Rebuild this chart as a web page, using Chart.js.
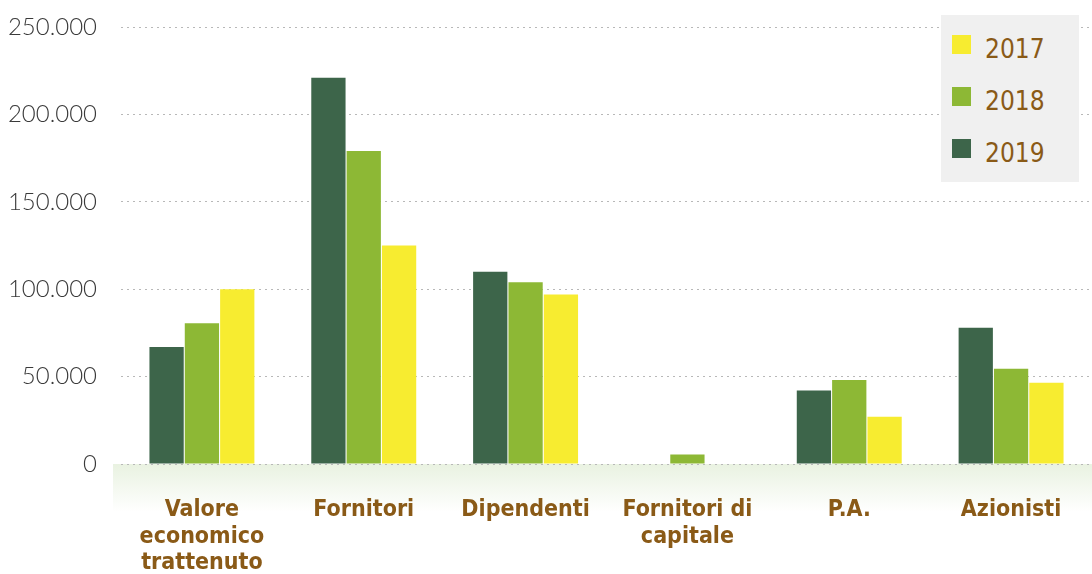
<!DOCTYPE html>
<html>
<head>
<meta charset="utf-8">
<script src="https://cdn.jsdelivr.net/npm/chart.js@4/dist/chart.umd.min.js"></script>
<style>
  html, body { margin: 0; padding: 0; background: #fff; }
  #wrap { position: relative; width: 1092px; height: 574px; }
  #legend { position: absolute; left: 941px; top: 15px; width: 138px; height: 167px;
            background: #f0f0f0; box-sizing: border-box; padding-top: 19px; }
  #legend div { height: 52px; display: flex; align-items: flex-start; line-height: 22px;
                font: 26px "DejaVu Sans Condensed", sans-serif; color: #8a5a17; }
  #legend span { display: inline-block; width: 19px; height: 19px; margin: 1px 14px 0 11px; }
</style>
</head>
<body>
<div id="wrap">
  <canvas id="bar-chart" width="1092" height="574"></canvas>
  <div id="legend"></div>
</div>
<script>
var categories = [["Valore", "economico", "trattenuto"], "Fornitori", "Dipendenti",
                  ["Fornitori di", "capitale"], "P.A.", "Azionisti"];
var years = ["2019", "2018", "2017"];
var values2019 = [67000, 221000, 110000, 0, 42000, 78000];
var values2018 = [80500, 179000, 104000, 5500, 48000, 54500];
var values2017 = [100000, 125000, 97000, 0, 27000, 46500];
var yTicks = [0, 50000, 100000, 150000, 200000, 250000];
var colors = ["#3d654a", "#8db835", "#f7ec30"];

// light green band under the x axis
var bandPlugin = {
    id: 'band',
    beforeDraw: function(chart) {
        var ctx = chart.ctx, a = chart.chartArea;
        var g = ctx.createLinearGradient(0, a.bottom, 0, a.bottom + 48);
        g.addColorStop(0, "#e9f2e1");
        g.addColorStop(1, "rgba(255,255,255,1)");
        ctx.save();
        ctx.fillStyle = g;
        ctx.fillRect(a.left - 8, a.bottom, chart.width - a.left + 8, 48);
        ctx.restore();
    }
};

var series = [values2019, values2018, values2017];
var chart = new Chart(document.getElementById("bar-chart"), {
    type: 'bar',
    data: {
        labels: categories,
        datasets: series.map(function(v, i) {
            return {
                label: years[i],
                data: v,
                backgroundColor: colors[i],
                borderWidth: 0,
                barPercentage: 0.97,
                categoryPercentage: 0.655
            };
        })
    },
    options: {
        responsive: false,
        animation: false,
        layout: { padding: { top: 27, right: 0, left: 0, bottom: 0 } },
        plugins: {
            legend: { display: false },
            tooltip: { enabled: false }
        },
        scales: {
            x: {
                grid: { display: false },
                border: { display: false },
                ticks: {
                    padding: 25,
                    color: "#8a5a17",
                    font: { family: "'DejaVu Sans Condensed', sans-serif", size: 23, weight: 'bold', lineHeight: 1.15 },
                    maxRotation: 0,
                    autoSkip: false
                },
                afterFit: function(s) { s.height = 110; }
            },
            y: {
                min: 0,
                max: 250000,
                afterBuildTicks: function(s) { s.ticks = yTicks.map(function(v) { return { value: v }; }); },
                afterFit: function(s) { s.width = 121; s.paddingTop = 0; },
                grid: { color: "#b8b8b8", lineWidth: 1, drawTicks: false },
                border: { display: false, dash: [2, 4] },
                ticks: {
                    padding: 24,
                    color: "#3a3a3a",
                    font: { family: "Lato, 'DejaVu Sans', sans-serif", size: 24, weight: 300 },
                    callback: function(v) { return v.toLocaleString('it-IT').replace(/,/g, '.'); }
                }
            }
        }
    },
    plugins: [bandPlugin]
});

// html legend, 2017 on top
var leg = document.getElementById("legend");
for (var i = years.length - 1; i >= 0; i--) {
    var d = document.createElement("div");
    d.innerHTML = '<span style="background:' + colors[i] + '"></span>' + years[i];
    leg.appendChild(d);
}
</script>
</body>
</html>
